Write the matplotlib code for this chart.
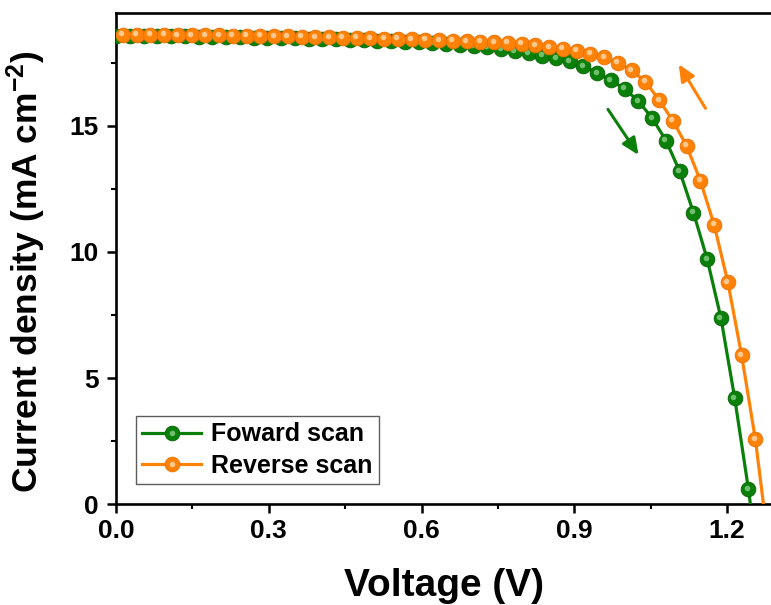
import matplotlib
matplotlib.use("Agg")
import matplotlib.pyplot as plt
from matplotlib.transforms import offset_copy
from matplotlib.ticker import MultipleLocator
from matplotlib.legend_handler import HandlerTuple

plt.rcParams['font.family'] = ['Liberation Sans', 'DejaVu Sans']
plt.rcParams['font.weight'] = 'bold'
plt.rcParams['mathtext.fontset'] = 'custom'
plt.rcParams['mathtext.rm'] = 'Liberation Sans:bold'
plt.rcParams['mathtext.bf'] = 'Liberation Sans:bold'
plt.rcParams['mathtext.default'] = 'bf'

# ---- data ----
forward_v = [0.000, 0.027, 0.054, 0.081, 0.108, 0.135, 0.162, 0.189, 0.216, 0.243,
             0.270, 0.297, 0.324, 0.351, 0.378, 0.405, 0.432, 0.459, 0.486, 0.513,
             0.540, 0.567, 0.594, 0.621, 0.648, 0.675, 0.702, 0.729, 0.756, 0.783,
             0.810, 0.837, 0.864, 0.891, 0.918, 0.945, 0.972, 0.999, 1.026, 1.053,
             1.080, 1.107, 1.134, 1.161, 1.188, 1.215, 1.242, 1.269]
forward_j = [18.57, 18.57, 18.56, 18.56, 18.55, 18.55, 18.54, 18.53, 18.53, 18.52,
             18.51, 18.50, 18.49, 18.48, 18.47, 18.45, 18.44, 18.42, 18.41, 18.39,
             18.37, 18.35, 18.32, 18.29, 18.26, 18.22, 18.17, 18.12, 18.05, 17.97,
             17.88, 17.79, 17.69, 17.57, 17.37, 17.10, 16.81, 16.47, 15.98, 15.31,
             14.42, 13.20, 11.56, 9.71, 7.37, 4.19, 0.58, -3.6]

reverse_v = [0.0135, 0.0405, 0.0675, 0.0945, 0.1215, 0.1485, 0.1755, 0.2025, 0.2295, 0.2565,
             0.2835, 0.3105, 0.3375, 0.3645, 0.3915, 0.4185, 0.4455, 0.4725, 0.4995, 0.5265,
             0.5535, 0.5805, 0.6075, 0.6345, 0.6615, 0.6885, 0.7155, 0.7425, 0.7695, 0.7965,
             0.8235, 0.8505, 0.8775, 0.9045, 0.9315, 0.9585, 0.9855, 1.0125, 1.0395, 1.0665,
             1.0935, 1.1205, 1.1475, 1.1745, 1.2015, 1.2285, 1.2555, 1.2825]
reverse_j = [18.62, 18.62, 18.61, 18.61, 18.60, 18.60, 18.59, 18.59, 18.58, 18.57,
             18.57, 18.56, 18.55, 18.54, 18.53, 18.52, 18.51, 18.50, 18.49, 18.47,
             18.46, 18.44, 18.43, 18.41, 18.39, 18.37, 18.35, 18.33, 18.30, 18.26,
             18.21, 18.13, 18.06, 17.98, 17.86, 17.73, 17.50, 17.21, 16.76, 16.03,
             15.21, 14.21, 12.83, 11.08, 8.80, 5.90, 2.57, -1.8]

series_labels = ["Foward scan", "Reverse scan"]
x_ticks = [0.0, 0.3, 0.6, 0.9, 1.2]
y_ticks = [0, 5, 10, 15]

GREEN = '#0a800a'
GREEN_DARK = '#056505'
GREEN_HI = '#6fbf6f'
ORANGE = '#ff8208'
ORANGE_DARK = '#ea7000'
ORANGE_HI = '#ffc88e'

fig = plt.figure(figsize=(7.71, 6.05), dpi=100)
ax = fig.add_axes([0.1505, 0.1669, 0.852, 0.8111])

hi_tr = offset_copy(ax.transData, fig=fig, x=-1.5, y=1.5, units='dots')

lf, = ax.plot(forward_v, forward_j, color=GREEN, lw=2.3, marker='o', ms=10.6,
              mfc=GREEN, mec=GREEN_DARK, mew=0.6, zorder=3)
hf, = ax.plot(forward_v, forward_j, ls='none', marker='o', ms=4.0, mfc=GREEN_HI,
              mec='none', transform=hi_tr, zorder=3.1)
lr, = ax.plot(reverse_v, reverse_j, color=ORANGE, lw=2.3, marker='o', ms=10.6,
              mfc=ORANGE, mec=ORANGE_DARK, mew=0.6, zorder=4)
hr, = ax.plot(reverse_v, reverse_j, ls='none', marker='o', ms=4.0, mfc=ORANGE_HI,
              mec='none', transform=hi_tr, zorder=4.1)

# scan direction arrows
ax.annotate('', xy=(1.026, 13.85), xytext=(0.966, 15.66),
            arrowprops=dict(arrowstyle='-|>,head_length=1.0,head_width=0.45',
                            color=GREEN, lw=2.2, shrinkA=0, shrinkB=0))
ax.annotate('', xy=(1.105, 17.45), xytext=(1.1575, 15.70),
            arrowprops=dict(arrowstyle='-|>,head_length=1.0,head_width=0.45',
                            color=ORANGE, lw=2.2, shrinkA=0, shrinkB=0))

ax.set_xlim(0, 1.29)
ax.set_ylim(0, 19.47)
ax.set_xticks(x_ticks)
ax.set_xticklabels([f"{t:.1f}" for t in x_ticks])
ax.set_yticks(y_ticks)
ax.xaxis.set_minor_locator(MultipleLocator(0.15))
ax.yaxis.set_minor_locator(MultipleLocator(2.5))
ax.tick_params(which='major', direction='out', length=6.5, width=1.8,
               labelsize=19, pad=4)
ax.tick_params(axis='y', which='major', pad=6)
ax.tick_params(which='minor', direction='out', length=3.5, width=1.5)
for lab in ax.get_xticklabels() + ax.get_yticklabels():
    lab.set_fontweight('bold')

for side in ['left', 'bottom', 'top']:
    ax.spines[side].set_linewidth(1.9)
ax.spines['right'].set_visible(False)

ax.set_xlabel('Voltage (V)', fontsize=28, fontweight='bold', labelpad=18)
ax.set_ylabel('Current density (mA cm$^{-2}$)', fontsize=25.5, fontweight='bold')
ax.yaxis.set_label_coords(-0.1035, 0.474)

leg = ax.legend([(lf, hf), (lr, hr)], series_labels,
                handler_map={tuple: HandlerTuple(ndivide=1)},
                loc='lower left', bbox_to_anchor=(0.0304, 0.0408),
                prop={'weight': 'bold', 'size': 18}, frameon=True, fancybox=False,
                edgecolor='#333333', handlelength=2.36, handletextpad=0.4,
                borderpad=0.25, labelspacing=0.3, borderaxespad=0)
leg.get_frame().set_linewidth(1.0)

fig.savefig('out.png', dpi=100)
